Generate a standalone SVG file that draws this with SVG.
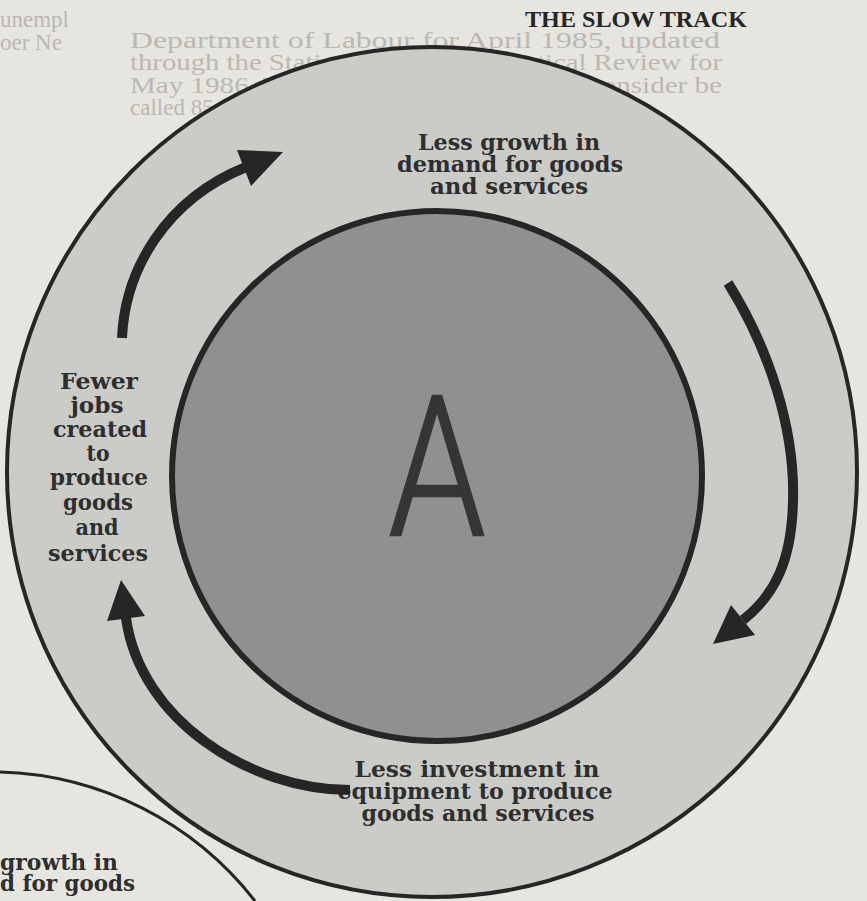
<svg xmlns="http://www.w3.org/2000/svg" width="867" height="901" viewBox="0 0 867 901">
  <defs>
    <style>
      .ghost { font-family: "Liberation Serif", "DejaVu Serif", serif; font-size: 23px; fill: #bab8b2; }
      .label { font-family: "DejaVu Serif", "Liberation Serif", serif; font-weight: bold; font-size: 22px; fill: #2e2e2e; text-anchor: middle; }
      .title { font-family: "Liberation Serif", "DejaVu Serif", serif; font-weight: bold; font-size: 23px; fill: #262626; }
      .shaft { fill: none; stroke: #262626; stroke-width: 10; stroke-linecap: butt; }
      .head { fill: #262626; }
    </style>
  </defs>
  <rect width="867" height="901" fill="#e7e5e0"/>

  <g id="page-ghost-text">
    <text class="ghost" x="0" y="27">unempl</text>
    <text class="ghost" x="0" y="50">oer Ne</text>
    <text class="ghost" x="130" y="48" textLength="590" lengthAdjust="spacingAndGlyphs">Department of Labour for April 1985, updated</text>
    <text class="ghost" x="130" y="70" textLength="592" lengthAdjust="spacingAndGlyphs">through the Statistics Canada Statistical Review for</text>
    <text class="ghost" x="130" y="93" textLength="592" lengthAdjust="spacingAndGlyphs">May 1986. The remaining numbers we consider be</text>
    <text class="ghost" x="130" y="115">called 85 per cent</text>
  </g>

  <g id="title">
    <text class="title" x="525" y="27" textLength="222" lengthAdjust="spacingAndGlyphs">THE SLOW TRACK</text>
  </g>

  <g id="second-diagram-fragment">
    <path d="M0,772 A335,335 0 0 1 255,901" fill="none" stroke="#262626" stroke-width="3"/>
    <text class="label" x="118" y="870" style="text-anchor:end" textLength="118" lengthAdjust="spacingAndGlyphs">growth in</text>
    <text class="label" x="135" y="891" style="text-anchor:end" textLength="135" lengthAdjust="spacingAndGlyphs">d for goods</text>
  </g>

  <g id="outer-ring">
    <circle cx="432" cy="472" r="425" fill="#cbcbc8" stroke="#262626" stroke-width="4"/>
  </g>

  <g id="inner-circle-A">
    <circle cx="437" cy="476" r="265" fill="#909090" stroke="#262626" stroke-width="6"/>
    <text transform="translate(437,535) scale(0.8,1)" x="0" y="0" text-anchor="middle" font-family="Roboto, 'Open Sans', 'Liberation Sans', sans-serif" font-weight="300" font-size="194" fill="#353535" stroke="#353535" stroke-width="2.5">A</text>
  </g>

  <g id="node-demand">
    <text class="label" x="509" y="150" textLength="182" lengthAdjust="spacingAndGlyphs">Less growth in</text>
    <text class="label" x="510" y="172" textLength="226" lengthAdjust="spacingAndGlyphs">demand for goods</text>
    <text class="label" x="509" y="194" textLength="158" lengthAdjust="spacingAndGlyphs">and services</text>
  </g>

  <g id="node-investment">
    <text class="label" x="477" y="777" textLength="245" lengthAdjust="spacingAndGlyphs">Less investment in</text>
    <text class="label" x="475" y="799" textLength="275" lengthAdjust="spacingAndGlyphs">equipment to produce</text>
    <text class="label" x="478" y="821" textLength="233" lengthAdjust="spacingAndGlyphs">goods and services</text>
  </g>

  <g id="node-jobs">
    <text class="label" x="99" y="389" textLength="78" lengthAdjust="spacingAndGlyphs">Fewer</text>
    <text class="label" x="97" y="413" textLength="53" lengthAdjust="spacingAndGlyphs">jobs</text>
    <text class="label" x="100" y="437" textLength="94" lengthAdjust="spacingAndGlyphs">created</text>
    <text class="label" x="98" y="461" textLength="23" lengthAdjust="spacingAndGlyphs">to</text>
    <text class="label" x="99" y="485" textLength="98" lengthAdjust="spacingAndGlyphs">produce</text>
    <text class="label" x="98" y="510" textLength="70" lengthAdjust="spacingAndGlyphs">goods</text>
    <text class="label" x="97" y="535" textLength="43" lengthAdjust="spacingAndGlyphs">and</text>
    <text class="label" x="98" y="561" textLength="100" lengthAdjust="spacingAndGlyphs">services</text>
  </g>

  <g id="connectors">
    <path class="shaft" d="M122,338 C125,270 165,200 246,167"/>
    <polygon class="head" points="283,152 251,186 237,150"/>
    <path class="shaft" d="M728,283 C770,350 795,430 793,500 C792,560 775,595 743,620"/>
    <polygon class="head" points="713,644 755,635 731,605"/>
    <path class="shaft" d="M350,790 C250,790 140,720 126,618"/>
    <polygon class="head" points="121,580 145,616 107,621"/>
  </g>
</svg>
